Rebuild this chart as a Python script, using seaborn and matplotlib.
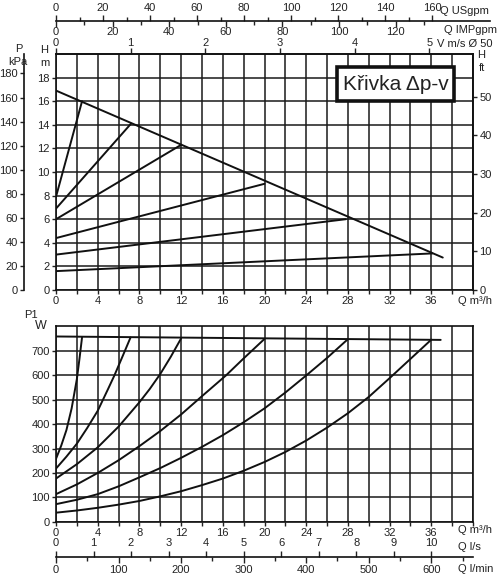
import matplotlib
matplotlib.use("Agg")
import matplotlib.pyplot as plt
from matplotlib.patches import Rectangle
from matplotlib.ticker import MultipleLocator, FixedLocator
import numpy as np
import pandas as pd
import seaborn as sns

# ---------------- data ----------------
# head curves, Q in m3/h, H in m
dpv_q = [0.0, 37.1]
dpv_h = [16.9, 2.75]
head_q = [[0.0, 2.5], [0.0, 7.2], [0.0, 12.0], [0.0, 20.0], [0.0, 27.8], [0.0, 36.1]]
head_h = [[7.9, 16.0], [6.9, 14.1], [6.0, 12.3], [4.4, 9.0], [3.0, 6.0], [1.6, 3.1]]

# power input curves, Q in m3/h, P1 in W
pmax_q = [0.0, 36.9]
pmax_w = [760, 746]
pow_q = [
    [0, 0.5, 1, 1.5, 2, 2.25, 2.5],
    [0, 1, 2, 3, 4, 5, 5.6, 6.4, 7.15],
    [0, 2, 4, 6, 8, 9, 10, 11, 12],
    [0, 2, 4, 6, 8, 10, 12, 14, 16.3, 18, 20],
    [0, 2, 4, 6, 8, 10, 12, 14, 16, 18, 20, 22, 24, 26, 28],
    [0, 2, 4, 6, 8, 10, 12, 14, 16, 18, 20, 22, 24, 26, 28, 30, 32, 34, 36],
]
pow_w = [
    [258, 312, 376, 465, 585, 668, 757],
    [218, 267, 320, 385, 455, 545, 600, 680, 756],
    [177, 236, 305, 390, 490, 545, 606, 676, 752],
    [113, 153, 200, 252, 310, 372, 440, 515, 600, 670, 750],
    [72, 90, 113, 145, 182, 220, 262, 307, 355, 408, 465, 530, 600, 672, 749],
    [37, 46, 57, 70, 85, 104, 125, 150, 177, 209, 245, 286, 333, 386, 445, 512, 589, 668, 747],
]

q_ticks = list(range(0, 37, 4))
h_ticks = list(range(0, 19, 2))
p_ticks = list(range(0, 181, 20))
ft_ticks = list(range(0, 51, 10))
w_ticks = list(range(0, 701, 100))
v_ticks = [0, 1, 2, 3, 4, 5]
usgpm_ticks = list(range(0, 161, 20))
impgpm_ticks = list(range(0, 121, 20))
ls_ticks = list(range(0, 11))
lmin_ticks = list(range(0, 601, 100))

# unit conversions to m3/h
M3H_PER_USGPM = 0.2255
M3H_PER_IMPGPM = 0.2715
M3H_PER_MS_D50 = 7.16
M3H_PER_LS = 3.6
M3H_PER_LMIN = 0.06
KPA_PER_M = 9.81

# ---------------- style ----------------
sns.set_theme(style="white")
plt.rcParams["font.family"] = ["Liberation Sans", "DejaVu Sans"]
plt.rcParams["font.size"] = 8
plt.rcParams["axes.linewidth"] = 1.2
plt.rcParams["xtick.major.size"] = 3
plt.rcParams["ytick.major.size"] = 3
plt.rcParams["xtick.major.width"] = 1.0
plt.rcParams["ytick.major.width"] = 1.0
plt.rcParams["xtick.major.pad"] = 1.5
plt.rcParams["ytick.major.pad"] = 1.5
plt.rcParams["xtick.labelsize"] = 8
plt.rcParams["ytick.labelsize"] = 8
plt.rcParams["xtick.color"] = "#222222"
plt.rcParams["ytick.color"] = "#222222"
plt.rcParams["axes.edgecolor"] = "#111111"

W_PX, H_PX = 497, 578
fig = plt.figure(figsize=(W_PX / 100, H_PX / 100), dpi=100)


def fx(x):
    return x / W_PX


def fy(y):
    return 1 - y / H_PX


def box(x0, y0, x1, y1):
    return [fx(x0), fy(y1), fx(x1) - fx(x0), fy(y0) - fy(y1)]


GRID = dict(color="#1a1a1a", lw=1.1)
CURVE = dict(color="#111111", lw=1.4)


def scale_axis(rect, xmax, side, major, labels, minor=None, show_line=True, pad=2):
    """A bare horizontal unit scale: one line with ticks and labels on one side."""
    a = fig.add_axes(rect)
    a.set_xlim(0, xmax)
    a.set_ylim(0, 1)
    a.set_yticks([])
    a.patch.set_visible(False)
    for s in ["left", "right", "bottom", "top"]:
        a.spines[s].set_visible(False)
    a.spines["top"].set_visible(show_line)
    a.spines["top"].set_linewidth(1.2)
    if side == "top":
        a.xaxis.set_ticks_position("top")
    else:
        a.xaxis.set_ticks_position("bottom")
    a.set_xticks(major)
    a.set_xticklabels(labels)
    if minor is not None:
        a.set_xticks(minor, minor=True)
    a.tick_params(axis="x", which="major", length=4, pad=pad)
    a.tick_params(axis="x", which="minor", length=3, width=1.0)
    return a


# ---------------- head chart ----------------
ax = fig.add_axes(box(56, 54, 473, 290))
ax.set_xlim(0, 40)
ax.set_ylim(0, 20)
ax.xaxis.set_major_locator(FixedLocator(q_ticks))
ax.xaxis.set_minor_locator(MultipleLocator(2))
ax.yaxis.set_major_locator(FixedLocator(h_ticks))
ax.grid(which="both", axis="x", **GRID)
ax.grid(which="major", axis="y", **GRID)

sns.lineplot(x=dpv_q, y=dpv_h, ax=ax, **CURVE)
for q, h in zip(head_q, head_h):
    sns.lineplot(x=q, y=h, ax=ax, **CURVE)
ax.set_xlabel("")
ax.set_ylabel("")

# pressure axis (kPa) on the far left
axp = ax.twinx()
axp.set_ylim(0, 20 * KPA_PER_M)
axp.yaxis.set_ticks_position("left")
axp.spines["left"].set_position(("outward", 23))
for s in ["top", "right", "bottom"]:
    axp.spines[s].set_visible(False)
axp.yaxis.set_major_locator(FixedLocator(p_ticks))
axp.tick_params(axis="y", left=True, right=False)

# head in feet on the right
axf = ax.twinx()
axf.set_ylim(0, 61)
axf.yaxis.set_major_locator(FixedLocator(ft_ticks))
axf.tick_params(axis="y", right=True, left=False)
for s in ["top", "left", "bottom"]:
    axf.spines[s].set_visible(False)

# velocity in a DN50 pipe along the top
axv = ax.twiny()
axv.set_xlim(0, 40 / M3H_PER_MS_D50)
axv.xaxis.set_major_locator(FixedLocator(v_ticks))
axv.tick_params(axis="x", top=True, length=4, pad=0.5)
for s in ["left", "right", "bottom"]:
    axv.spines[s].set_visible(False)

# restore ticks on the bottom of the head chart after the twin
ax.xaxis.set_ticks_position("bottom")
ax.yaxis.set_ticks_position("left")
ax.tick_params(axis="x", which="minor", length=3, width=1.0)

# ---------------- flow scale in gallons ----------------
g_rect = box(56, 20.7, 490, 20.8)
g_max = (490 - 56) / 417 * 40
scale_axis(g_rect, g_max, "top",
           [v * M3H_PER_USGPM for v in usgpm_ticks], [str(v) for v in usgpm_ticks],
           [v * M3H_PER_USGPM for v in range(10, 161, 20)], pad=1.5)
scale_axis(g_rect, g_max, "bottom",
           [v * M3H_PER_IMPGPM for v in impgpm_ticks], [str(v) for v in impgpm_ticks],
           [v * M3H_PER_IMPGPM for v in range(10, 131, 20)], show_line=False, pad=0.5)

# ---------------- power chart ----------------
axb = fig.add_axes(box(56, 326, 473, 521.7))
axb.set_xlim(0, 40)
axb.set_ylim(0, 803)
axb.xaxis.set_major_locator(FixedLocator(q_ticks))
axb.xaxis.set_minor_locator(MultipleLocator(2))
axb.yaxis.set_major_locator(FixedLocator(w_ticks))
axb.grid(which="both", axis="x", **GRID)
axb.grid(which="major", axis="y", **GRID)
axb.tick_params(axis="x", which="minor", length=3, width=1.0, bottom=True)
axb.tick_params(axis="both", which="major", bottom=True, left=True)

sns.lineplot(x=pmax_q, y=pmax_w, ax=axb, **CURVE)
for q, w in zip(pow_q, pow_w):
    sns.lineplot(x=q, y=w, ax=axb, **CURVE)
axb.set_xlabel("")
axb.set_ylabel("")

# ---------------- flow scale in litres ----------------
l_rect = box(56, 556.7, 473, 556.8)
scale_axis(l_rect, 40, "top",
           [v * M3H_PER_LS for v in ls_ticks], [str(v) for v in ls_ticks])
scale_axis(l_rect, 40, "bottom",
           [v * M3H_PER_LMIN for v in lmin_ticks], [str(v) for v in lmin_ticks],
           [v * M3H_PER_LMIN for v in range(50, 651, 100)], show_line=False)

# ---------------- axis captions ----------------
TXT = dict(fontsize=8, color="#222222")
fig.text(fx(440), fy(11), "Q USgpm", ha="left", va="center", **TXT)
fig.text(fx(444), fy(30), "Q IMPgpm", ha="left", va="center", **TXT)
fig.text(fx(437), fy(44), "V m/s Ø 50", ha="left", va="center", **TXT)
fig.text(fx(19), fy(49), "P", ha="center", va="center", **TXT)
fig.text(fx(18), fy(62), "kPa", ha="center", va="center", **TXT)
fig.text(fx(44), fy(50), "H", ha="center", va="center", **TXT)
fig.text(fx(45), fy(63), "m", ha="center", va="center", **TXT)
fig.text(fx(477), fy(55), "H", ha="left", va="center", **TXT)
fig.text(fx(479), fy(68), "ft", ha="left", va="center", **TXT)
fig.text(fx(458), fy(301), "Q m³/h", ha="left", va="center", **TXT)
fig.text(fx(31), fy(315), "P1", ha="center", va="center", **TXT)
fig.text(fx(41), fy(326), "W", ha="center", va="center", fontsize=9, color="#222222")
fig.text(fx(458), fy(530), "Q m³/h", ha="left", va="center", **TXT)
fig.text(fx(458), fy(547), "Q l/s", ha="left", va="center", **TXT)
fig.text(fx(458), fy(569), "Q l/min", ha="left", va="center", **TXT)

# ---------------- title box ----------------
fig.patches.append(Rectangle((fx(337), fy(101)), fx(454) - fx(337), fy(67) - fy(101),
                             transform=fig.transFigure, facecolor="white",
                             edgecolor="#111111", lw=2.6, zorder=5))
fig.text(fx(395.5), fy(84.5), "Křivka Δp-v", ha="center", va="center",
         fontsize=15, color="#222222", zorder=6)

fig.savefig("out.png", dpi=100, facecolor="white")
